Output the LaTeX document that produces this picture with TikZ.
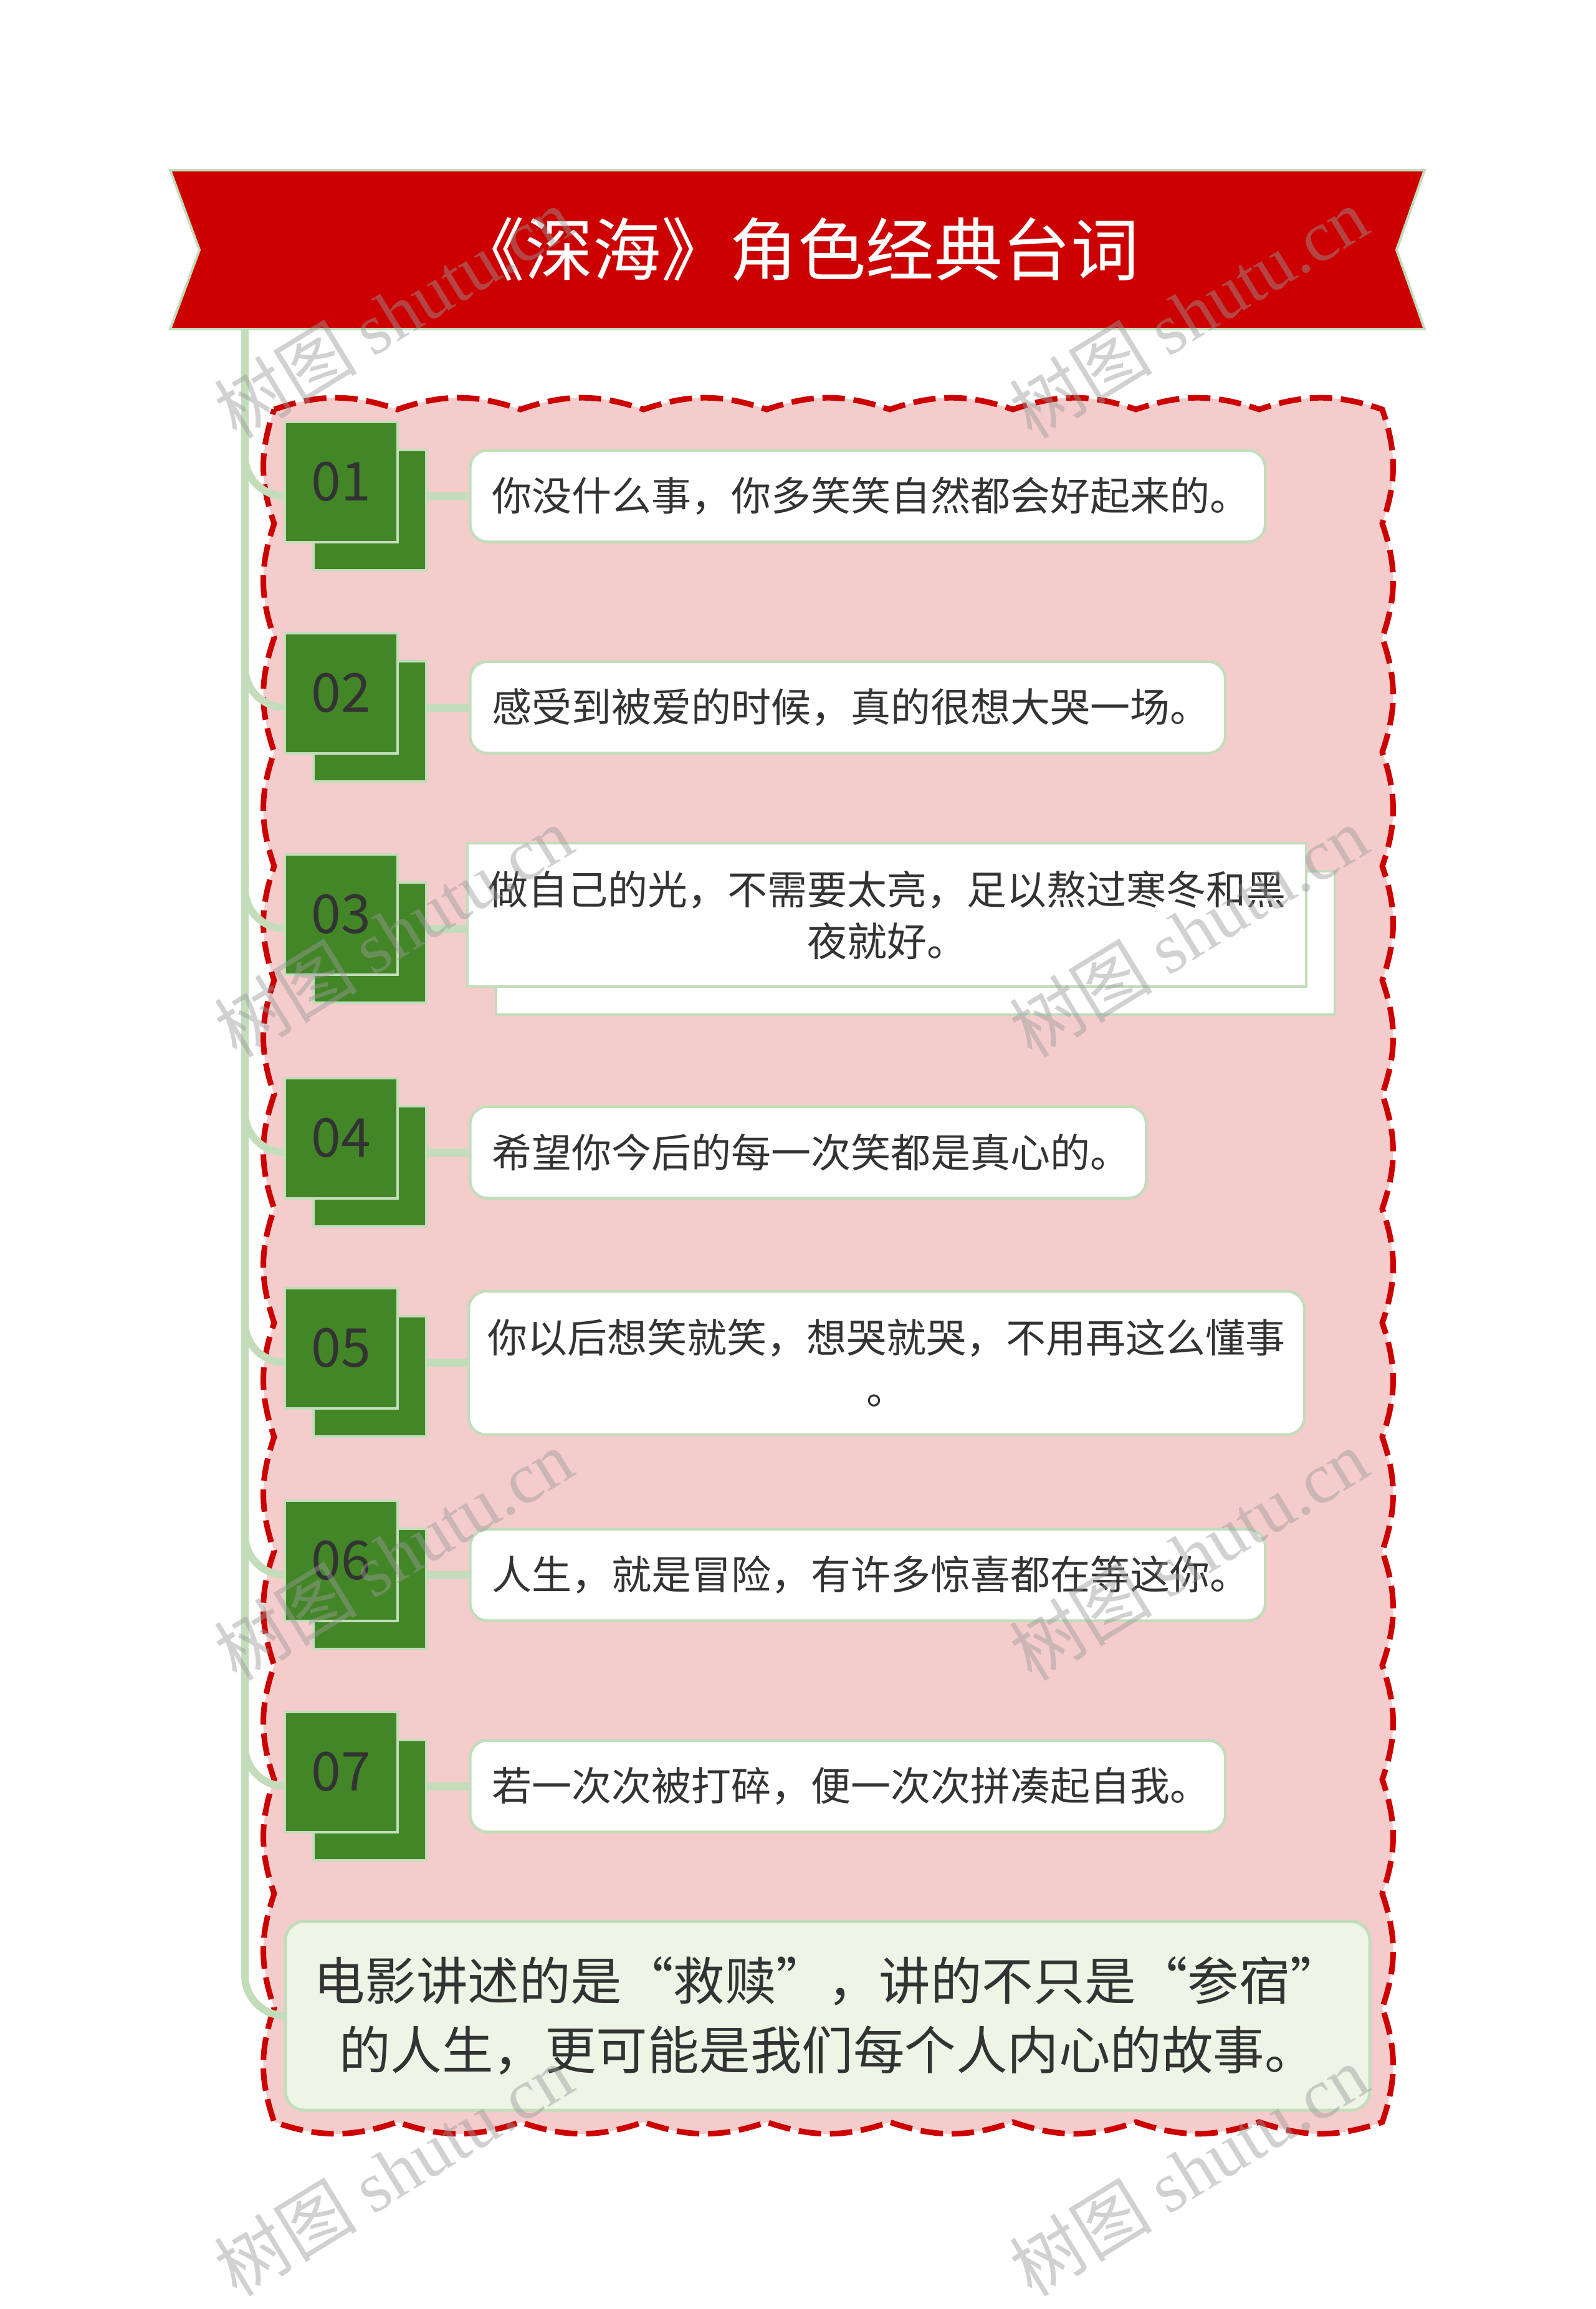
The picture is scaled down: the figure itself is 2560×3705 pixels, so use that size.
\documentclass[tikz,border=0pt]{standalone}
\usepackage{fontspec}
\setmainfont{Noto Sans CJK SC}
\newfontfamily\wmfont{Liberation Serif}
\usetikzlibrary{calc}
\definecolor{bannerred}{HTML}{CC0000}
\definecolor{lg}{HTML}{C3DDBB}
\definecolor{pinkbg}{HTML}{F4CCCC}
\definecolor{numgreen}{HTML}{438627}
\definecolor{txt}{HTML}{333333}
\definecolor{finfill}{HTML}{EEF5E6}
\definecolor{wmgray}{HTML}{9A9A9A}
\newcommand{\fq}[1]{{\addfontfeatures{RawFeature=+fwid}#1}}
\pgfdeclarelayer{back}
\pgfdeclarelayer{links}
\pgfsetlayers{back,links,main}
\begin{document}
\begin{tikzpicture}[x=1pt,y=-1pt,
  conn/.style={draw=lg, line width=12pt},
  numbox/.style={draw=lg, line width=4pt, fill=numgreen, minimum width=181pt, minimum height=193pt, inner sep=0pt},
  numfront/.style={numbox, text=txt, font=\fontsize{86}{86}\selectfont},
  quote/.style={draw=lg, line width=4.5pt, fill=white, rounded corners=28pt, minimum height=147pt, inner xsep=35pt, inner ysep=0pt, text=txt, font=\fontsize{64}{83}\selectfont},
  quoteL/.style={quote, anchor=west, align=left, text width=#1},
  quoteC/.style={quote, inner xsep=28pt, minimum height=230pt, align=center, text width=#1},
  wm/.style={anchor=base west, rotate=31.5, text=wmgray, text opacity=0.45, inner sep=0pt, font=\fontsize{115}{115}\selectfont},
  banner/.style={fill=bannerred, draw=lg, line width=4pt},
  frame/.style={draw=bannerred, line width=9pt, dash pattern=on 36pt off 14pt}
]
\useasboundingbox (0,0) rectangle (2560,3705);

% background and scalloped container
\begin{pgfonlayer}{back}
\fill[white] (0,0) rectangle (2560,3705);
\path[fill=pinkbg] (440,657)
  \foreach \i in {1,...,9}{ to[bend left=19] ++(197.56,0) }
  \foreach \i in {1,...,15}{ to[bend left=19] ++(0,183.2) }
  \foreach \i in {1,...,9}{ to[bend left=19] ++(-197.56,0) }
  \foreach \i in {1,...,15}{ to[bend left=19] ++(0,-183.2) } -- cycle;
\path[frame] (440,657)
  \foreach \i in {1,...,9}{ to[bend left=19] ++(197.56,0) }
  \foreach \i in {1,...,15}{ to[bend left=19] ++(0,183.2) }
  \foreach \i in {1,...,9}{ to[bend left=19] ++(-197.56,0) }
  \foreach \i in {1,...,15}{ to[bend left=19] ++(0,-183.2) } -- cycle;
\end{pgfonlayer}

% row coordinates
\coordinate (sp0) at (393,528);
\coordinate (r1) at (600,796);
\coordinate (r2) at (600,1135);
\coordinate (r3) at (600,1490);
\coordinate (r4) at (600,1849);
\coordinate (r5) at (600,2186);
\coordinate (r6) at (600,2527);
\coordinate (r7) at (600,2866);

% final box
\node[draw=lg, line width=5pt, fill=finfill, rounded corners=30pt, minimum width=1740pt, minimum height=303pt, align=center, text=txt, font=\fontsize{82.5}{111}\selectfont] (fin) at (1328,3234.5)
  {电影讲述的是\fq{“}救赎\fq{”}，讲的不只是\fq{“}参宿\fq{”}\\的人生，更可能是我们每个人内心的故事。};

% number boxes
\foreach \k/\yf/\yb in {1/773/818, 2/1112/1157, 3/1467/1512, 4/1826/1871, 5/2163/2208, 6/2504/2549, 7/2843/2888}{
  \node[numbox] (b\k) at (593,\yb) {};
  \node[numfront] (n\k) at (547.5,\yf) {0\k};
}

% text boxes
\node[quoteL=1206pt] (t1) at (752,796) {你没什么事，你多笑笑自然都会好起来的。};
\node[quoteL=1142pt] (t2) at (752,1135) {感受到被爱的时候，真的很想大哭一场。};
\node[quote, rounded corners=0pt, minimum width=1346pt, minimum height=230pt] (t3b) at (1469,1513) {};
\node[quoteC=1290pt, rounded corners=0pt] (t3) at (1423,1468) {做自己的光，不需要太亮，足以熬过寒冬和黑\\夜就好。};
\node[quoteL=1015pt] (t4) at (752,1849) {希望你今后的每一次笑都是真心的。};
\node[quoteC=1285pt] (t5) at (1422.5,2187) {你以后想笑就笑，想哭就哭，不用再这么懂事\\。};
\node[quoteL=1206pt] (t6) at (752,2527) {人生，就是冒险，有许多惊喜都在等这你。};
\node[quoteL=1142pt] (t7) at (752,2866) {若一次次被打碎，便一次次拼凑起自我。};

% connectors
\begin{pgfonlayer}{links}
\draw[conn, rounded corners=65pt] (sp0) |- (fin.west);
\foreach \k in {1,...,7}{
  \draw[conn, rounded corners=64pt] ($(sp0 |- r\k)+(0,-100)$) |- (n\k.west |- r\k);
  \draw[conn, line width=13pt] (b\k.east |- r\k) -- (t\k.west |- r\k);
}
\end{pgfonlayer}

% banner
\path[banner] (273,273) -- (2286,273) -- (2241,401) -- (2286,528) -- (273,528) -- (320,401) -- cycle;
\node[text=white, font=\fontsize{109.5}{109.5}\selectfont, inner sep=0pt] (title) at (1280,400) {《深海》角色经典台词};

% watermarks
\node[wm] (wm1) at (380,707) {树图 {\wmfont shutu.cn}};
\node[wm] (wm2) at (1656,707) {树图 {\wmfont shutu.cn}};
\node[wm] (wm3) at (380,1700) {树图 {\wmfont shutu.cn}};
\node[wm] (wm4) at (1656,1700) {树图 {\wmfont shutu.cn}};
\node[wm] (wm5) at (380,2700) {树图 {\wmfont shutu.cn}};
\node[wm] (wm6) at (1656,2700) {树图 {\wmfont shutu.cn}};
\node[wm] (wm7) at (380,3688) {树图 {\wmfont shutu.cn}};
\node[wm] (wm8) at (1656,3688) {树图 {\wmfont shutu.cn}};
\end{tikzpicture}
\end{document}
